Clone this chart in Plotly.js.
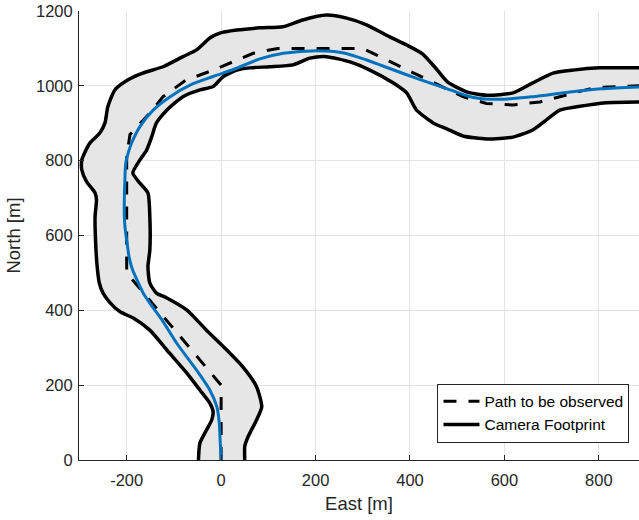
<!DOCTYPE html>
<html>
<head>
<meta charset="utf-8">
<script src="https://cdn.plot.ly/plotly-3.0.1.min.js"></script>
<style>html,body{margin:0;padding:0;background:#fff;}#chart{width:639px;height:520px;}</style>
</head>
<body>
<div id="chart"></div>
<script>
// Camera footprint outline (closed polygon), East / North in metres
const footprintX = [-48,-48,-45,-31,-20,-17,-24,-45,-73,-115,-151,-187,-214,-235,-250,-258,-262,-265,-267,-264,-267,-285,-295,-295,-288,-278,-257,-246,-240,-225,-197,-166,-123,-81,-52,-24,-3,33,82,131,173,223,266,308,357,393,427,456,480,520,562,618,660,703,745,802,885,950,
  950,885,816,753,717,689,660,618,562,512,478,449,414,393,364,315,273,223,188,152,103,61,33,4,-17,-45,-81,-115,-137,-147,-158,-172,-187,-172,-155,-151,-151,-155,-151,-137,-115,-73,-31,12,46,75,86,75,57,50,50,50,-48];
const footprintY = [-30,0,45,80,107,129,152,187,233,294,347,380,396,420,446,473,510,561,649,695,714,744,775,802,824,847,874,901,944,989,1016,1034,1051,1078,1096,1128,1141,1149,1155,1158,1176,1189,1181,1163,1131,1109,1085,1045,1010,984,975,981,1008,1034,1042,1048,1048,1048,
  957,957,955,944,935,909,882,863,858,866,885,901,935,981,1008,1042,1064,1078,1074,1056,1051,1048,1042,1024,998,989,971,935,901,864,828,802,767,740,714,650,561,517,473,446,433,401,347,294,249,196,142,107,62,36,0,-30,-30];

// Path to be observed (dashed)
const pathX = [0,0,-200,-200,-193,-151,-123,-75,-17,68,120,300,512,562,618,675,790,885];
const pathY = [0,200,500,810,870,927,971,1015,1042,1087,1100,1100,971,953,949,957,995,1000];

// Flown path (blue)
const flownX = [0,-2,-4,-9,-24,-52,-94,-123,-151,-165,-178,-188,-195,-199,-203,-205,-205,-204,-202,-197,-190,-172,-144,-108,-66,-17,33,82,132,202,260,308,364,414,485,534,590,660,735,805,885];
const flownY = [0,50,100,142,187,240,312,370,419,446,481,510,543,579,615,650,700,740,793,820,846,891,935,971,1002,1025,1047,1072,1087,1094,1088,1069,1043,1020,989,969,964,971,983,992,997];

// Axis ticks
const xTickVals = [-200,0,200,400,600,800];
const xTickText = ['-200','0','200','400','600','800'];
const yTickVals = [0,200,400,600,800,1000,1200];
const yTickText = ['0','200','400','600','800','1000','1200'];

const FONT = 'Liberation Sans, Arial, Helvetica, sans-serif';
const TXT = '#262626';

const traces = [
  {x: footprintX, y: footprintY, type: 'scatter', mode: 'lines', fill: 'toself',
   fillcolor: '#e6e6e6', line: {width: 0, shape: 'spline', smoothing: 0.6}, showlegend: false, hoverinfo: 'skip'},
  {x: pathX, y: pathY, type: 'scatter', mode: 'lines', name: 'Path to be observed',
   line: {color: '#000000', width: 3, dash: '13px,12px'}},
  {x: footprintX, y: footprintY, type: 'scatter', mode: 'lines', name: 'Camera Footprint',
   line: {color: '#000000', width: 3.5, shape: 'spline', smoothing: 0.6}},
  {x: flownX, y: flownY, type: 'scatter', mode: 'lines', showlegend: false,
   line: {color: '#0072BD', width: 3, shape: 'spline', smoothing: 0.8}}
];

const axisCommon = {
  showline: true, linecolor: TXT, linewidth: 1,
  ticks: 'inside', ticklen: 5, tickcolor: TXT, tickwidth: 1,
  showgrid: true, gridcolor: '#e3e3e3', gridwidth: 1,
  zeroline: false, tickfont: {family: FONT, size: 16.5, color: TXT},
  tickmode: 'array'
};

const layout = {
  width: 639, height: 520,
  margin: {l: 79, r: 0, t: 11, b: 60},
  paper_bgcolor: '#ffffff', plot_bgcolor: '#ffffff',
  font: {family: FONT, color: TXT},
  xaxis: Object.assign({}, axisCommon, {
    range: [-301, 885], tickvals: xTickVals, ticktext: xTickText, ticklabelstandoff: 5,
    title: {text: 'East [m]', font: {family: FONT, size: 18.5, color: TXT}, standoff: 9}
  }),
  yaxis: Object.assign({}, axisCommon, {
    range: [0, 1200], tickvals: yTickVals, ticktext: yTickText, ticklabelstandoff: 2,
    title: {text: 'North [m]', font: {family: FONT, size: 18.5, color: TXT}, standoff: 10}
  }),
  legend: {
    x: 0.983, y: 0.0385, xanchor: 'right', yanchor: 'bottom',
    bgcolor: '#ffffff', bordercolor: TXT, borderwidth: 1,
    font: {family: FONT, size: 15.5, color: '#000000'},
    itemwidth: 36, tracegroupgap: 0
  },
  showlegend: true
};

Plotly.newPlot('chart', traces, layout, {displayModeBar: false, staticPlot: true});
</script>
</body>
</html>
